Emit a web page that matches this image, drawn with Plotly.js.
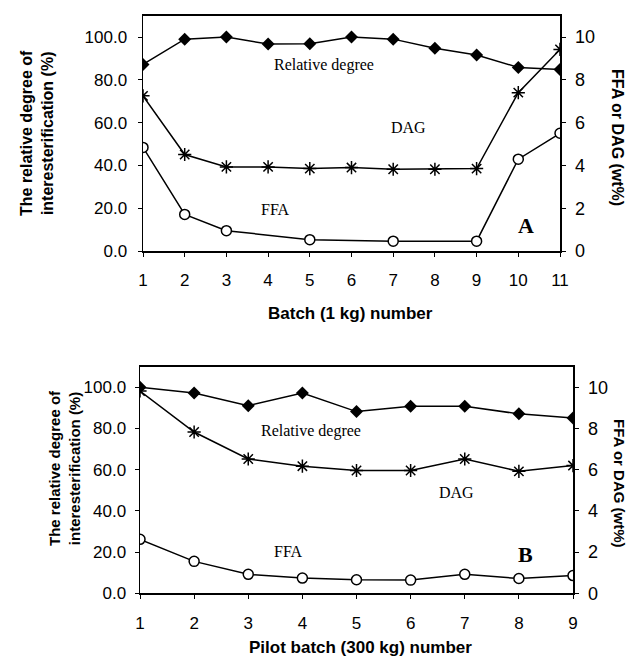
<!DOCTYPE html>
<html>
<head>
<meta charset="utf-8">
<script src="https://cdn.plot.ly/plotly-3.0.1.min.js"></script>
<style>html,body{margin:0;padding:0;background:#fff;}#chart{width:627px;height:661px;}</style>
</head>
<body>
<div id="chart"></div>
<script>
// Panel A: batch (1 kg)
const batchA = [1,2,3,4,5,6,7,8,9,10,11];
const relDegreeA = [87.2, 99.0, 100.0, 96.7, 96.8, 100.0, 99.0, 94.7, 91.6, 85.8, 84.8];
const dagA = [7.25, 4.51, 3.93, 3.93, 3.85, 3.90, 3.82, 3.82, 3.85, 7.40, 9.42];
const ffaBatchA = [1,2,3,5,7,9,10,11];
const ffaA = [4.84, 1.71, 0.95, 0.53, 0.46, 0.46, 4.29, 5.50];

// Panel B: pilot batch (300 kg)
const batchB = [1,2,3,4,5,6,7,8,9];
const relDegreeB = [100.0, 97.2, 91.1, 97.2, 88.2, 90.8, 90.8, 87.1, 85.1];
const dagB = [9.82, 7.83, 6.52, 6.17, 5.96, 5.96, 6.52, 5.92, 6.20];
const ffaB = [2.62, 1.55, 0.92, 0.74, 0.66, 0.64, 0.92, 0.72, 0.86];

const leftTicks = [0,20,40,60,80,100];
const rightTicks = [0,2,4,6,8,10];

const lineStyle = {color:'#000', width:1.5};
const diamond = {symbol:'diamond', size:10, color:'#000', line:{color:'#000', width:0}};
const star = {symbol:'asterisk-open', size:11, color:'#000', line:{color:'#000', width:1.5}};
const circ = {symbol:'circle', size:10, color:'#fff', line:{color:'#000', width:1.5}};

const traces = [
  {x:batchA, y:relDegreeA, xaxis:'x', yaxis:'y', mode:'lines+markers', line:lineStyle, marker:diamond, name:'Relative degree'},
  {x:batchA, y:dagA, xaxis:'x', yaxis:'y2', mode:'lines+markers', line:lineStyle, marker:star, name:'DAG'},
  {x:ffaBatchA, y:ffaA, xaxis:'x', yaxis:'y2', mode:'lines+markers', line:lineStyle, marker:circ, name:'FFA'},
  {x:batchB, y:relDegreeB, xaxis:'x2', yaxis:'y3', mode:'lines+markers', line:lineStyle, marker:diamond, name:'Relative degree'},
  {x:batchB, y:dagB, xaxis:'x2', yaxis:'y4', mode:'lines+markers', line:lineStyle, marker:star, name:'DAG'},
  {x:batchB, y:ffaB, xaxis:'x2', yaxis:'y4', mode:'lines+markers', line:lineStyle, marker:circ, name:'FFA'}
];

const tickFont = {family:'Liberation Sans, Arial, sans-serif', size:17, color:'#000'};
const rTickFont = {family:'Liberation Sans, Arial, sans-serif', size:18, color:'#000'};
const baseAxis = {showgrid:false, zeroline:false, showline:true, linecolor:'#000', linewidth:1.5,
  ticks:'outside', ticklen:4, tickcolor:'#000', tickwidth:1, tickfont:tickFont};

const W = 627, H = 661;
const px = v => v / W, py = v => 1 - v / H;

const layout = {
  width:W, height:H, showlegend:false,
  paper_bgcolor:'#fff', plot_bgcolor:'#fff',
  margin:{l:0, r:0, t:0, b:0},
  xaxis: Object.assign({}, baseAxis, {domain:[px(143), px(560)], range:[1,11], tickvals:batchA, anchor:'y', mirror:true, ticklabelstandoff:9}),
  yaxis: Object.assign({}, baseAxis, {domain:[py(251), py(15.6)], range:[0,110], tickvals:leftTicks, tickformat:'.1f', anchor:'x', ticklabelstandoff:7}),
  yaxis2: Object.assign({}, baseAxis, {range:[0,11], tickvals:rightTicks, overlaying:'y', side:'right', anchor:'x', tickfont:rTickFont, ticklabelstandoff:6}),
  xaxis2: Object.assign({}, baseAxis, {domain:[px(140), px(573)], range:[1,9], tickvals:batchB, anchor:'y3', mirror:true, ticklabelstandoff:10}),
  yaxis3: Object.assign({}, baseAxis, {domain:[py(593.3), py(366.7)], range:[0,110], tickvals:leftTicks, tickformat:'.1f', anchor:'x2', ticklabelstandoff:5}),
  yaxis4: Object.assign({}, baseAxis, {range:[0,11], tickvals:rightTicks, overlaying:'y3', side:'right', anchor:'x2', tickfont:rTickFont, ticklabelstandoff:6}),
  annotations: []
};

const serif = {family:'Liberation Serif, Times New Roman, serif', size:16, color:'#000'};
const serifBold = {family:'Liberation Serif, Times New Roman, serif', size:22, color:'#000'};
const sansBold = s => ({family:'Liberation Sans, Arial, sans-serif', size:s, color:'#000'});

function note(text, x, y, xref, yref, font) {
  layout.annotations.push({text:text, x:x, y:y, xref:xref, yref:yref, showarrow:false, font:font, xanchor:'center', yanchor:'middle'});
}
function pnote(text, x, y, font, angle) {
  layout.annotations.push({text:text, x:px(x), y:py(y), xref:'paper', yref:'paper', showarrow:false, font:font, textangle:angle||0, xanchor:'center', yanchor:'middle'});
}

// In-plot labels, panel A
note('Relative degree', 5.34, 86.9, 'x', 'y', serif);
note('DAG', 7.36, 57.9, 'x', 'y', serif);
note('FFA', 4.17, 19.2, 'x', 'y', serif);
note('<b>A</b>', 10.18, 11.7, 'x', 'y', serifBold);
// In-plot labels, panel B
note('Relative degree', 4.16, 79, 'x2', 'y3', serif);
note('DAG', 6.84, 49, 'x2', 'y3', serif);
note('FFA', 3.74, 20.5, 'x2', 'y3', serif);
note('<b>B</b>', 8.12, 19, 'x2', 'y3', serifBold);

// Axis titles
pnote('<b>Batch (1 kg) number</b>', 350, 313, sansBold(17));
pnote('<b>The relative degree of<br>interesterification (%)</b>', 37, 133, sansBold(16), -90);
pnote('<b>FFA or DAG (wt%)</b>', 618, 137, sansBold(16), 90);
pnote('<b>Pilot batch (300 kg) number</b>', 360, 647, sansBold(17));
pnote('<b>The relative degree of<br>interesterification (%)</b>', 64, 468, sansBold(15), -90);
pnote('<b>FFA or DAG (wt%)</b>', 620, 483, sansBold(15), 90);

Plotly.newPlot('chart', traces, layout, {displayModeBar:false, staticPlot:true});
</script>
</body>
</html>
